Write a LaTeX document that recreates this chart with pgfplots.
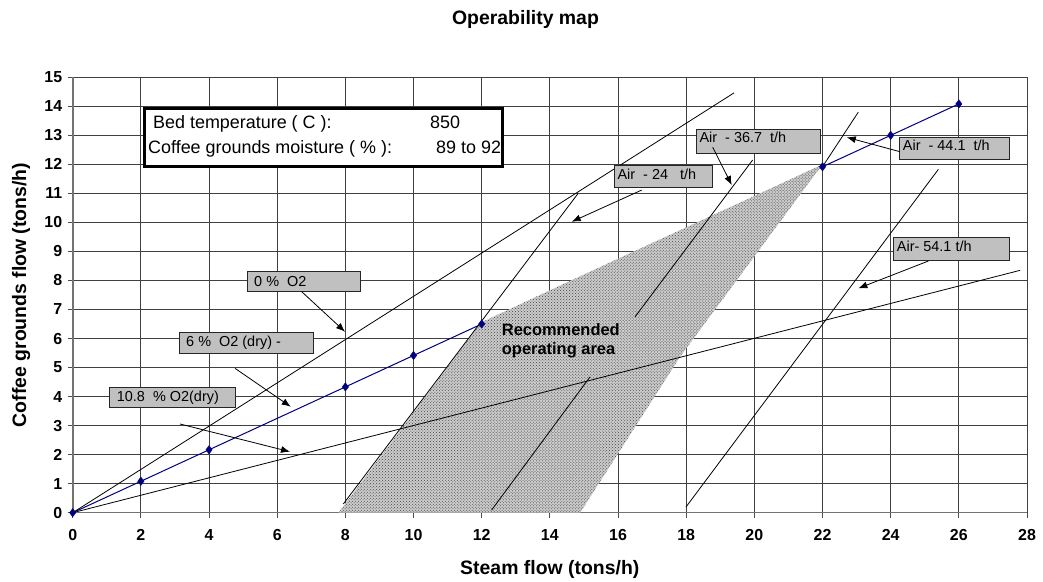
\documentclass[border=0pt]{standalone}
\usepackage{fontspec}
\setmainfont{Liberation Sans}
\usepackage{pgfplots}
\pgfplotsset{compat=1.18}
\usetikzlibrary{arrows.meta,patterns}
\definecolor{navyline}{RGB}{0,0,128}
\definecolor{boxgray}{RGB}{192,192,192}
\begin{document}
\begin{tikzpicture}
\useasboundingbox (0bp,0bp) rectangle (1043bp,582bp);
\begin{axis}[
  at={(72.7bp,69.3bp)}, anchor=south west,
  scale only axis, width=954.3bp, height=435.4bp,
  xmin=0, xmax=28, ymin=0, ymax=15,
  xtick={0,2,...,28}, ytick={0,1,...,15},
  grid=major, major grid style={black!75, line width=0.8bp},
  axis x line*=bottom, axis y line*=left,
  axis line style={black!55, line width=1.6bp},
  tick align=outside, major tick length=5bp,
  tick style={black!70, line width=0.8bp},
  ticklabel style={font=\fontsize{16}{16}\selectfont\bfseries},
  /pgf/number format/assume math mode=true,
  xticklabel style={yshift=-8bp},
  yticklabel style={xshift=-2bp},
  clip=false,
]
% 6 % O2 line (blue)
\addplot[navyline, line width=1bp]
  coordinates {(0,0) (2,1.083) (4,2.167) (8,4.333) (10,5.417) (12,6.5) (14,7.583) (16,8.667) (18,9.75) (20,10.833) (22,11.917) (24,13) (26,14.083)};
\addplot[navyline, only marks, mark=diamond*, mark size=4.2bp, mark options={fill=navyline}]
  coordinates {(0,0) (2,1.083) (4,2.167) (8,4.333) (10,5.417) (12,6.5) (22,11.917) (24,13) (26,14.083)};
% recommended operating area
\addplot[draw=none, fill=black!20, postaction={pattern=crosshatch dots, pattern color=black!75}]
  coordinates {(7.8,0) (11.98,6.55) (14,7.66) (16,8.75) (18,9.83) (20,10.91) (22,12.0) (17.82,5.37) (14.89,0)} -- cycle;
% 0 % O2
\addplot[black, line width=0.8bp] coordinates {(0,0) (19.4,14.46)};
% 10.8 % O2
\addplot[black, line width=0.8bp] coordinates {(0,0) (27.8,8.35)};
% Air 24
\addplot[black, line width=0.8bp] coordinates {(7.94,0.3) (14.83,11.0)};
% Air 36.7
\addplot[black, line width=0.8bp] coordinates {(12.29,0.09) (15.18,4.68)};
\addplot[black, line width=0.8bp] coordinates {(16.5,6.75) (19.95,12.15)};
% Air 44.1
\addplot[black, line width=0.8bp] coordinates {(22,11.92) (23.05,13.8)};
% Air 54.1
\addplot[black, line width=0.8bp] coordinates {(17.99,0.19) (25.4,11.83)};

% label boxes
\tikzset{lbox/.style={fill=boxgray, draw=black!85, line width=1bp},
         ltext/.style={anchor=base west, inner sep=0pt, font=\fontsize{14.5}{14.5}\selectfont},
         larr/.style={black, line width=0.8bp, -{Latex[length=9bp,width=7bp]}}}
\draw[lbox] (axis cs:5.135,8.326) rectangle (axis cs:8.430,7.637);
\node[ltext] at (axis cs:5.32,7.80) {0 \%\ \ O2};
\draw[larr] (axis cs:6.720,7.613) -- (axis cs:7.990,6.235);

\draw[lbox] (axis cs:3.128,6.200) rectangle (axis cs:7.060,5.491);
\node[ltext] at (axis cs:3.325,5.725) {6 \%\ \ O2 (dry) -};
\draw[larr] (axis cs:4.762,4.974) -- (axis cs:6.397,3.651);

\draw[lbox] (axis cs:1.074,4.320) rectangle (axis cs:4.762,3.617);
\node[ltext] at (axis cs:1.291,3.824) {10.8\ \ \% O2(dry)};
\draw[larr] (axis cs:3.148,3.056) -- (axis cs:6.376,2.101);

\draw[lbox] (axis cs:15.892,11.953) rectangle (axis cs:18.779,11.195);
\node[ltext] at (axis cs:15.980,11.485) {Air\ \ - 24\ \ \ t/h};
\draw[larr] (axis cs:16.696,11.116) -- (axis cs:14.642,10.024);

\draw[lbox] (axis cs:18.310,13.218) rectangle (axis cs:21.928,12.380);
\node[ltext] at (axis cs:18.386,12.745) {Air\ \ - 36.7\ \ t/h};
\draw[larr] (axis cs:18.779,12.587) -- (axis cs:19.337,11.288);

\draw[lbox] (axis cs:24.255,12.931) rectangle (axis cs:27.482,12.174);
\node[ltext] at (axis cs:24.354,12.470) {Air\ \ - 44.1\ \ t/h};
\draw[larr] (axis cs:24.275,12.436) -- (axis cs:22.711,12.932);

\draw[lbox] (axis cs:24.079,9.473) rectangle (axis cs:27.482,8.705);
\node[ltext] at (axis cs:24.178,8.991) {Air- 54.1 t/h};
\draw[larr] (axis cs:25.106,8.670) -- (axis cs:23.052,7.730);

% info box
\draw[fill=white, draw=black, line width=3bp] (axis cs:2.092,13.938) rectangle (axis cs:12.597,11.940);
\tikzset{itext/.style={anchor=base west, inner sep=0pt, font=\fontsize{18}{18}\selectfont}}
\node[itext] at (axis cs:2.356,13.249) {Bed temperature ( C ):};
\node[itext] at (axis cs:10.484,13.249) {850};
\node[itext] at (axis cs:2.209,12.388) {Coffee grounds moisture ( \% ):};
\node[itext] at (axis cs:10.660,12.388) {89 to 92};

% recommended text
\node[anchor=base west, inner sep=0pt, font=\fontsize{16.5}{16.5}\selectfont\bfseries] at (axis cs:12.588,6.121) {Recommended};
\node[anchor=base west, inner sep=0pt, font=\fontsize{16.5}{16.5}\selectfont\bfseries] at (axis cs:12.588,5.45) {operating area};
\end{axis}
\node[anchor=base, inner sep=0pt, font=\fontsize{19.5}{19.5}\selectfont\bfseries] at (525.5bp,557bp) {Operability map};
\node[anchor=base, inner sep=0pt, font=\fontsize{19.5}{19.5}\selectfont\bfseries] at (549.8bp,7.7bp) {Steam flow (tons/h)};
\node[anchor=base, inner sep=0pt, rotate=90, font=\fontsize{19.5}{19.5}\selectfont\bfseries] at (26bp,287bp) {Coffee grounds flow (tons/h)};
\end{tikzpicture}
\end{document}
